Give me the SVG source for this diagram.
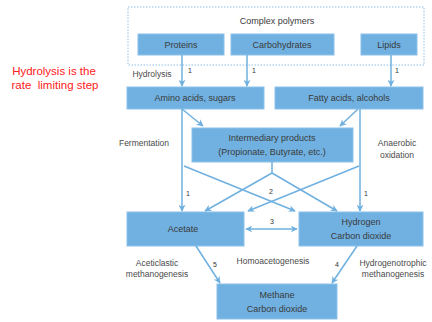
<svg xmlns="http://www.w3.org/2000/svg" width="432" height="322" viewBox="0 0 432 322">
<style>
.box{fill:#70b1e1;stroke:#8cc2ea;stroke-width:1}
.t{font-family:"Liberation Sans",Arial,sans-serif;font-size:9px;fill:#3a3a3a;text-anchor:middle}
.l{font-family:"Liberation Sans",Arial,sans-serif;font-size:8.5px;fill:#4a4a4a;text-anchor:middle}
.n{font-family:"Liberation Sans",Arial,sans-serif;font-size:7px;fill:#333}
.c{stroke:#6fb0e0;stroke-width:1.5;fill:none}
</style>
<defs>
<marker id="ah" viewBox="0 0 10 10" refX="9" refY="5" markerWidth="7" markerHeight="7" orient="auto-start-reverse" markerUnits="userSpaceOnUse">
<path d="M0,0 L10,5 L0,10 L3,5 Z" fill="#6fb0e0"/>
</marker>
</defs>
<text x="54" y="75" font-family="'Liberation Sans',Arial,sans-serif" font-size="11.5" fill="#ff2020" text-anchor="middle">Hydrolysis is the</text>
<text x="55" y="89" font-family="'Liberation Sans',Arial,sans-serif" font-size="11.5" fill="#ff2020" text-anchor="middle" xml:space="preserve">rate  limiting step</text>
<g id="polymers">
<rect x="128" y="7" width="296" height="58" fill="none" stroke="#8cc2ea" stroke-width="1" stroke-dasharray="1.5,1.5"/>
<text class="t" x="277" y="24">Complex polymers</text>
</g>
<g id="proteins"><rect class="box" x="138" y="34" width="86" height="21"/><text class="t" x="181" y="48">Proteins</text></g>
<g id="carbohydrates"><rect class="box" x="231" y="34" width="103" height="21"/><text class="t" x="282" y="48">Carbohydrates</text></g>
<g id="lipids"><rect class="box" x="361" y="34" width="56" height="21"/><text class="t" x="389" y="48">Lipids</text></g>
<g id="amino"><rect class="box" x="127" y="87" width="137" height="22"/><text class="t" x="195" y="101">Amino acids, sugars</text></g>
<g id="fatty"><rect class="box" x="275" y="87" width="148" height="22"/><text class="t" x="349" y="101">Fatty acids, alcohols</text></g>
<g id="intermediary"><rect class="box" x="192" y="128" width="161" height="34"/><text class="t" x="272" y="141">Intermediary products</text><text class="t" x="272" y="155">(Propionate, Butyrate, etc.)</text></g>
<g id="acetate"><rect class="box" x="127" y="212" width="117" height="34"/><text class="t" x="183" y="232">Acetate</text></g>
<g id="hydrogen"><rect class="box" x="299" y="212" width="124" height="34"/><text class="t" x="361" y="225">Hydrogen</text><text class="t" x="361" y="239">Carbon dioxide</text></g>
<g id="methane"><rect class="box" x="217" y="284" width="120" height="35"/><text class="t" x="277" y="298">Methane</text><text class="t" x="277" y="312">Carbon dioxide</text></g>
<g id="connectors">
<line class="c" x1="182" y1="55" x2="182" y2="86" marker-end="url(#ah)"/>
<line class="c" x1="247" y1="55" x2="247" y2="86" marker-end="url(#ah)"/>
<line class="c" x1="391" y1="55" x2="391" y2="86" marker-end="url(#ah)"/>
<line class="c" x1="182" y1="109" x2="203" y2="126" marker-end="url(#ah)"/>
<line class="c" x1="358" y1="109" x2="340" y2="126" marker-end="url(#ah)"/>
<line class="c" x1="182" y1="109" x2="182" y2="211" marker-end="url(#ah)"/>
<line class="c" x1="360" y1="109" x2="360" y2="211" marker-end="url(#ah)"/>
<line class="c" x1="184" y1="166" x2="295" y2="211" marker-end="url(#ah)"/>
<line class="c" x1="359" y1="166" x2="248" y2="211" marker-end="url(#ah)"/>
<polyline class="c" points="272,162 272,173"/>
<line class="c" x1="272" y1="173" x2="205" y2="211" marker-end="url(#ah)"/>
<line class="c" x1="272" y1="173" x2="337" y2="211" marker-end="url(#ah)"/>
<line class="c" x1="246" y1="229" x2="297" y2="229" marker-start="url(#ah)" marker-end="url(#ah)"/>
<line class="c" x1="196" y1="246" x2="220" y2="283" marker-end="url(#ah)"/>
<line class="c" x1="357" y1="246" x2="332" y2="283" marker-end="url(#ah)"/>
</g>
<g id="labels">
<text class="l" x="152" y="77">Hydrolysis</text>
<text class="n" x="188" y="73">1</text>
<text class="n" x="252" y="73">1</text>
<text class="n" x="395" y="73">1</text>
<text class="l" x="144" y="146">Fermentation</text>
<text class="l" x="397" y="146">Anaerobic</text>
<text class="l" x="397" y="158">oxidation</text>
<text class="n" x="186" y="196">1</text>
<text class="n" x="364" y="196">1</text>
<text class="n" x="269" y="194">2</text>
<text class="n" x="270" y="224">3</text>
<text class="n" x="213" y="267">5</text>
<text class="n" x="335" y="267">4</text>
<text class="l" x="157" y="266">Aceticlastic</text>
<text class="l" x="157" y="277">methanogenesis</text>
<text class="l" x="273" y="264">Homoacetogenesis</text>
<text class="l" x="393" y="266">Hydrogenotrophic</text>
<text class="l" x="393" y="277">methanogenesis</text>
</g>
</svg>
